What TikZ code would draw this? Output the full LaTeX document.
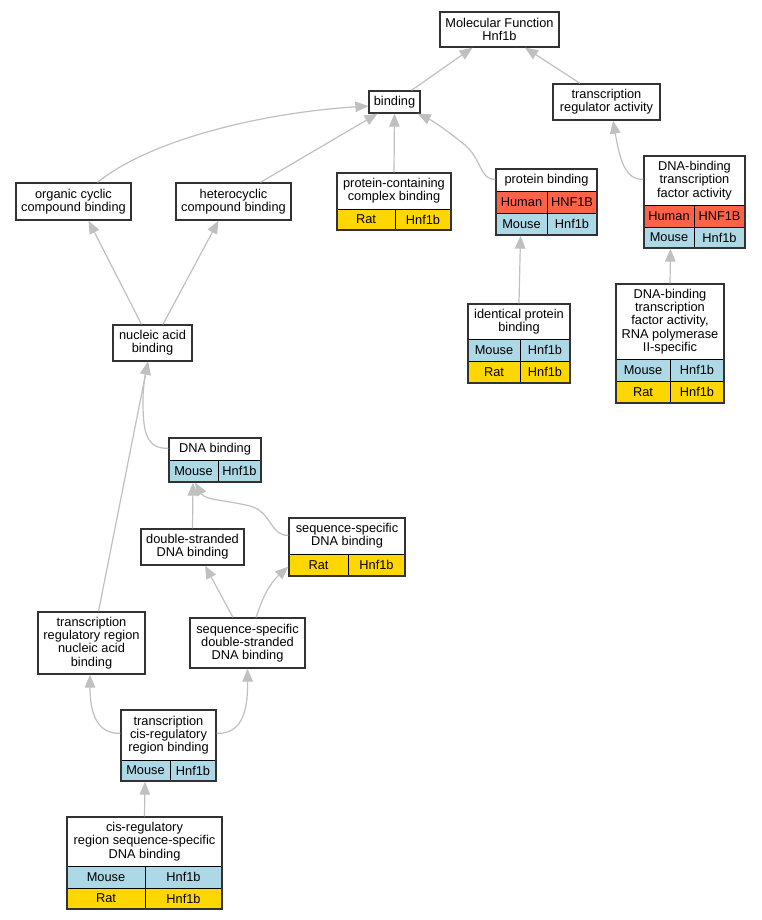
\documentclass[tikz,border=0pt]{standalone}
\usepackage{fontspec}
\setmainfont{Liberation Sans}
\usetikzlibrary{arrows.meta}
\definecolor{human}{RGB}{255,99,71}
\definecolor{mouse}{RGB}{173,216,230}
\definecolor{rat}{RGB}{255,215,0}
\definecolor{edgegray}{RGB}{192,192,192}
\definecolor{boxline}{RGB}{50,50,50}
% frame: name x1 y1 x2 y2
\newcommand\goframe[5]{\node[outerbox, minimum width={#4-#2}, minimum height={#5-#3}] (#1) at ({(#2+#4)/2},{(#3+#5)/2}) {};}
% title: name x1 y1 x2 y2 text
\newcommand\gotitle[6]{\node[titletext] (#1) at ({(#2+#4)/2},{(#3+#5)/2}) {#6};}
% cell: name x1 y1 x2 y2 colour text
\newcommand\gocell[7]{\node[cellbox, fill=#6, minimum width={#4-#2}, minimum height={#5-#3}] (#1) at ({(#2+#4)/2},{(#3+#5)/2}) {#7};}
\begin{document}
\begin{tikzpicture}[x=1pt,y=-1pt,
  outerbox/.style={draw=boxline, line width=1.3pt, inner sep=0pt},
  titletext/.style={inner sep=0pt, align=center, font=\fontsize{12.8}{13.3}\selectfont},
  cellbox/.style={draw=black, line width=0.9pt, inner sep=0pt, font=\fontsize{12.8}{13.3}\selectfont},
  goedge/.style={draw=edgegray, line width=1.2pt, -{Triangle[length=13pt,width=10.5pt]}}]
\fill[white] (0,0) rectangle (761,920);
\useasboundingbox (0,0) rectangle (761,920);

% Molecular Function
\gotitle{mf-t}{440}{12}{559}{47}{Molecular Function\\Hnf1b}
\goframe{mf}{440}{12}{559}{47}
% binding
\gotitle{bind-t}{369}{91}{420}{113}{binding}
\goframe{bind}{369}{91}{420}{113}
% transcription regulator activity
\gotitle{tra-t}{553}{84}{660}{120}{transcription\\regulator activity}
\goframe{tra}{553}{84}{660}{120}
% organic cyclic
\gotitle{occb-t}{16}{183}{131}{220}{organic cyclic\\compound binding}
\goframe{occb}{16}{183}{131}{220}
% heterocyclic
\gotitle{hcb-t}{176}{183}{291}{220}{heterocyclic\\compound binding}
\goframe{hcb}{176}{183}{291}{220}
% protein-containing complex binding
\gotitle{pccb-t}{337}{173}{451}{209}{protein-containing\\complex binding}
\gocell{pccb-r1}{337}{209}{395}{230}{rat}{Rat}
\gocell{pccb-r2}{395}{209}{451}{230}{rat}{Hnf1b}
\goframe{pccb}{337}{173}{451}{230}
% protein binding
\gotitle{pb-t}{496}{169}{597}{191}{protein binding}
\gocell{pb-h1}{496}{191}{547}{213}{human}{Human}
\gocell{pb-h2}{547}{191}{597}{213}{human}{HNF1B}
\gocell{pb-m1}{496}{213}{547}{235}{mouse}{Mouse}
\gocell{pb-m2}{547}{213}{597}{235}{mouse}{Hnf1b}
\goframe{pb}{496}{169}{597}{235}
% DNA-binding transcription factor activity
\gotitle{dbtf-t}{644}{156}{745}{205}{DNA-binding\\transcription\\factor activity}
\gocell{dbtf-h1}{644}{205}{694}{227}{human}{Human}
\gocell{dbtf-h2}{694}{205}{745}{227}{human}{HNF1B}
\gocell{dbtf-m1}{644}{227}{694}{248}{mouse}{Mouse}
\gocell{dbtf-m2}{694}{227}{745}{248}{mouse}{Hnf1b}
\goframe{dbtf}{644}{156}{745}{248}
% identical protein binding
\gotitle{ipb-t}{468}{304}{570}{339}{identical protein\\binding}
\gocell{ipb-m1}{468}{339}{520}{361}{mouse}{Mouse}
\gocell{ipb-m2}{520}{339}{570}{361}{mouse}{Hnf1b}
\gocell{ipb-r1}{468}{361}{520}{383}{rat}{Rat}
\gocell{ipb-r2}{520}{361}{570}{383}{rat}{Hnf1b}
\goframe{ipb}{468}{304}{570}{383}
% RNA polymerase II-specific
\gotitle{rnap-t}{616}{284}{724}{359}{DNA-binding\\transcription\\factor activity,\\RNA polymerase\\II-specific}
\gocell{rnap-m1}{616}{359}{670}{381}{mouse}{Mouse}
\gocell{rnap-m2}{670}{359}{724}{381}{mouse}{Hnf1b}
\gocell{rnap-r1}{616}{381}{670}{403}{rat}{Rat}
\gocell{rnap-r2}{670}{381}{724}{403}{rat}{Hnf1b}
\goframe{rnap}{616}{284}{724}{403}
% nucleic acid binding
\gotitle{nab-t}{113}{325}{192}{361}{nucleic acid\\binding}
\goframe{nab}{113}{325}{192}{361}
% DNA binding
\gotitle{dnab-t}{169}{438}{261}{460}{DNA binding}
\gocell{dnab-m1}{169}{460}{218}{482}{mouse}{Mouse}
\gocell{dnab-m2}{218}{460}{261}{482}{mouse}{Hnf1b}
\goframe{dnab}{169}{438}{261}{482}
% double-stranded DNA binding
\gotitle{ds-t}{141}{529}{244}{565}{double-stranded\\DNA binding}
\goframe{ds}{141}{529}{244}{565}
% sequence-specific DNA binding
\gotitle{ss-t}{289}{518}{405}{554}{sequence-specific\\DNA binding}
\gocell{ss-r1}{289}{554}{348}{576}{rat}{Rat}
\gocell{ss-r2}{348}{554}{405}{576}{rat}{Hnf1b}
\goframe{ss}{289}{518}{405}{576}
% transcription regulatory region nucleic acid binding
\gotitle{trr-t}{38}{612}{145}{674}{transcription\\regulatory region\\nucleic acid\\binding}
\goframe{trr}{38}{612}{145}{674}
% sequence-specific double-stranded DNA binding
\gotitle{ssds-t}{190}{618}{305}{668}{sequence-specific\\double-stranded\\DNA binding}
\goframe{ssds}{190}{618}{305}{668}
% transcription cis-regulatory region binding
\gotitle{tcr-t}{121}{710}{216}{760}{transcription\\cis-regulatory\\region binding}
\gocell{tcr-m1}{121}{760}{170}{781}{mouse}{Mouse}
\gocell{tcr-m2}{170}{760}{216}{781}{mouse}{Hnf1b}
\goframe{tcr}{121}{710}{216}{781}
% cis-regulatory region sequence-specific DNA binding
\gotitle{crr-t}{67}{817}{222}{866}{cis-regulatory\\region sequence-specific\\DNA binding}
\gocell{crr-m1}{67}{866}{145}{888}{mouse}{Mouse}
\gocell{crr-m2}{145}{866}{222}{888}{mouse}{Hnf1b}
\gocell{crr-r1}{67}{888}{145}{909}{rat}{Rat}
\gocell{crr-r2}{145}{888}{222}{909}{rat}{Hnf1b}
\goframe{crr}{67}{817}{222}{909}

% edges
\draw[goedge] ([xshift=17pt]bind.north) -- ([xshift=-27pt]mf.south);
\draw[goedge] ([xshift=-26.5pt]tra.north) -- ([xshift=25.5pt]mf.south);
\draw[goedge] ([xshift=24pt]occb.north) .. controls (150,140) and (260,113) .. ([yshift=-4pt]bind.west);
\draw[goedge] ([xshift=27pt]hcb.north) -- ([xshift=-17pt]bind.south);
\draw[goedge] (pccb.north) -- (bind.south);
\draw[goedge] ([yshift=-11pt]pb.north west) .. controls (480,180) and (482,160) .. (465,145) .. controls (450,133) and (435,122) .. ([xshift=-3pt]bind.south east);
\draw[goedge] ([yshift=-24pt]dbtf.north west) .. controls (625,180) and (620,160) .. ([xshift=6.5pt]tra.south);
\draw[goedge] (ipb.north) -- ([xshift=-26pt]pb.south);
\draw[goedge] (rnap.north) -- ([xshift=-24pt]dbtf.south);
\draw[goedge] ([xshift=-11pt]nab.north) -- ([xshift=15pt]occb.south);
\draw[goedge] ([xshift=10.5pt]nab.north) -- ([xshift=-15pt]hcb.south);
\draw[goedge] ([yshift=-11pt]dnab.north west) .. controls (145,449) and (143,430) .. (143,400) .. controls (143,385) and (146,372) .. ([xshift=-4.5pt]nab.south);
\draw[goedge] ([xshift=7pt]trr.north) -- ([xshift=-4.5pt]nab.south);
\draw[goedge] (ds.north) -- ([xshift=-22pt]dnab.south);
\draw[goedge] ([yshift=-18pt]ss.north west) .. controls (270,536) and (272,512) .. (250,506) .. controls (225,500) and (205,500) .. ([xshift=-20pt]dnab.south);
\draw[goedge] ([xshift=-14.5pt]ssds.north) -- ([xshift=12.5pt]ds.south);
\draw[goedge] ([xshift=8.5pt]ssds.north) .. controls (262,600) and (268,585) .. ([yshift=10pt]ss.south west);
\draw[goedge] ([yshift=-24pt]tcr.north west) .. controls (98,734) and (90,715) .. ([xshift=-1.5pt]trr.south);
\draw[goedge] ([yshift=-24pt]tcr.north east) .. controls (240,734) and (248,715) .. (ssds.south);
\draw[goedge] (crr.north) -- ([xshift=-23.5pt]tcr.south);
\end{tikzpicture}
\end{document}
